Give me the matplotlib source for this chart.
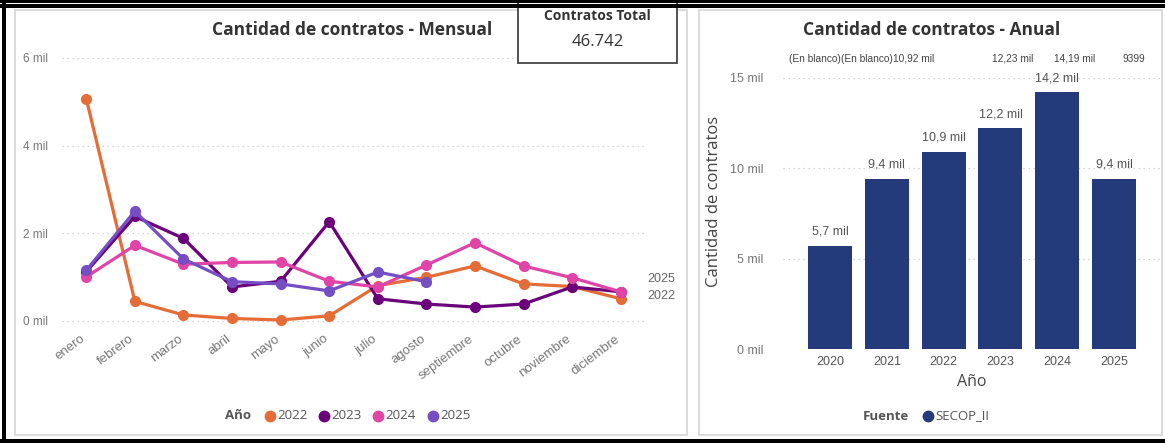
import matplotlib
matplotlib.use("Agg")
import matplotlib.pyplot as plt
import matplotlib.transforms as mtransforms
from matplotlib.patches import Rectangle
from matplotlib.lines import Line2D

# ---------------- data ----------------
months = ["enero", "febrero", "marzo", "abril", "mayo", "junio", "julio",
          "agosto", "septiembre", "octubre", "noviembre", "diciembre"]
y2022 = [5070, 440, 130, 50, 15, 110, 800, 990, 1250, 840, 780, 500]
y2023 = [1120, 2380, 1880, 770, 900, 2260, 500, 380, 310, 380, 770, 660]
y2024 = [1000, 1720, 1290, 1330, 1340, 900, 770, 1270, 1780, 1250, 980, 660]
y2025 = [1150, 2500, 1410, 890, 840, 680, 1110, 890]
series_years = ["2022", "2023", "2024", "2025"]
end_label_years = ["2025", "2022"]

left_yticks = [0, 2000, 4000, 6000]
left_yticklabels = ["0 mil", "2 mil", "4 mil", "6 mil"]

years = ["2020", "2021", "2022", "2023", "2024", "2025"]
annual = [5700, 9400, 10900, 12200, 14200, 9400]
annual_labels = ["5,7 mil", "9,4 mil", "10,9 mil", "12,2 mil", "14,2 mil", "9,4 mil"]
top_labels = ["(En blanco)", "(En blanco)", "10,92 mil", "12,23 mil", "14,19 mil", "9399"]
right_yticks = [0, 5000, 10000, 15000]
right_yticklabels = ["0 mil", "5 mil", "10 mil", "15 mil"]

card_title = "Contratos Total"
card_value = "46.742"

# ---------------- style ----------------
W, H = 1165, 443
colors = {"2022": "#E66C37", "2023": "#6B007B", "2024": "#E044A7", "2025": "#744EC2"}
bar_color = "#243B7B"
grey_txt = "#777777"
dark_txt = "#333333"
tick_font = "Liberation Sans"
title_font = "Open Sans"

fig = plt.figure(figsize=(W / 100, H / 100), dpi=100)
fig.patch.set_facecolor("white")


def fx(x):
    return x / W


def fy(y):
    return 1 - y / H


def rect(x0, y0, x1, y1, z, **kw):
    fig.add_artist(Rectangle((fx(x0), fy(y1)), fx(x1) - fx(x0), fy(y0) - fy(y1),
                             transform=fig.transFigure, zorder=z, **kw))


# panels (behind axes)
rect(15, 10, 687, 435, -5, facecolor="white", edgecolor="#D6D6D6", linewidth=1.2)
rect(699, 10, 1162, 435, -5, facecolor="white", edgecolor="#D6D6D6", linewidth=1.2)

# outer black frame
rect(0, 0, W, 2.5, 20, facecolor="black", edgecolor="none")
rect(0, 4.5, W, 7.5, 20, facecolor="black", edgecolor="none")
rect(2, 0, 6, H, 20, facecolor="black", edgecolor="none")
rect(0, 439, W, H, 20, facecolor="black", edgecolor="none")

# ---------------- left chart ----------------
axL = fig.add_axes([fx(62), fy(331.6), fx(645) - fx(62), fy(58) - fy(331.6)])
axL.set_zorder(1)
axL.set_facecolor("none")
axL.set_xlim(-0.5, 11.5)
axL.set_ylim(-250, 6000)
for s in axL.spines.values():
    s.set_visible(False)
axL.tick_params(length=0)
axL.set_yticks(left_yticks)
axL.set_yticklabels(left_yticklabels, fontsize=8.5, color=grey_txt, family=tick_font)
axL.tick_params(axis="y", pad=10)
axL.grid(axis="y", linestyle=(0, (1, 3)), color="#C8C8C8", linewidth=0.9)
axL.set_axisbelow(True)
axL.set_xticks(range(len(months)))
axL.set_xticklabels(months, rotation=37, ha="right", va="top", rotation_mode="anchor",
                    fontsize=9.5, color=grey_txt, family=tick_font)
axL.tick_params(axis="x", pad=1)
shift = mtransforms.ScaledTranslation(-6 / 100, 0, fig.dpi_scale_trans)
for lab in axL.get_xticklabels():
    lab.set_transform(lab.get_transform() + shift)

data_series = [y2022, y2023, y2024, y2025]
for yr, vals in zip(series_years, data_series):
    axL.plot(range(len(vals)), vals, color=colors[yr], linewidth=2.3, marker="o",
             markersize=7, solid_capstyle="round", zorder=3)

last_vals = dict(zip(series_years, data_series))
for yr in end_label_years:
    v = last_vals[yr][-1]
    axL.text(len(months) - 1 + 0.55, v + 60, yr, fontsize=9, color="#666666",
             family=tick_font, ha="left", va="center", clip_on=False)

fig.text(fx(352), fy(30), "Cantidad de contratos - Mensual", fontsize=12.5,
         fontweight="bold", color=dark_txt, family=title_font, ha="center", va="center")

# legend left
fig.text(fx(225), fy(415.5), "Año", fontsize=9.5, fontweight="bold", color="#555555",
         family=title_font, ha="left", va="center")
leg_x = [270, 324, 378, 433]
for yr, xd in zip(series_years, leg_x):
    fig.add_artist(Line2D([fx(xd)], [fy(415.5)], marker="o", markersize=7.5,
                          color=colors[yr], transform=fig.transFigure, linestyle="none"))
    fig.text(fx(xd + 7), fy(415.5), yr, fontsize=9.5, color="#555555",
             family=title_font, ha="left", va="center")

# ---------------- card ----------------
rect(518, -5, 677, 63, 10, facecolor="white", edgecolor="#444444", linewidth=1.3)
fig.text(fx(597.5), fy(16), card_title, fontsize=10, fontweight="bold", color=dark_txt,
         family=title_font, ha="center", va="center", zorder=11)
fig.text(fx(597.5), fy(42), card_value, fontsize=12, color=dark_txt,
         family=title_font, ha="center", va="center", zorder=11)

# ---------------- right chart ----------------
axR = fig.add_axes([fx(783), fy(349), fx(1160) - fx(783), fy(77.7) - fy(349)])
axR.set_zorder(1)
axR.set_facecolor("none")
axR.set_xlim(-0.83, 5.81)
axR.set_ylim(0, 15000)
for s in axR.spines.values():
    s.set_visible(False)
axR.tick_params(length=0)
axR.set_yticks(right_yticks)
axR.set_yticklabels(right_yticklabels, fontsize=9, color=grey_txt, family=tick_font)
axR.tick_params(axis="y", pad=14)
axR.grid(axis="y", linestyle=(0, (1, 3)), color="#C8C8C8", linewidth=0.9)
axR.set_axisbelow(True)
xs = list(range(len(years)))
axR.bar(xs, annual, width=0.775, color=bar_color, zorder=2)
axR.set_xticks(xs)
axR.set_xticklabels(years, fontsize=9, color="#555555", family=tick_font)
axR.tick_params(axis="x", pad=5)
for x, v, lab in zip(xs, annual, annual_labels):
    axR.text(x, v + 450, lab, fontsize=9, color="#555555", family=tick_font,
             ha="center", va="bottom", clip_on=False)

# top row of labels: first three chained side by side, remaining centred
top_kw = dict(fontsize=7.3, color="#444444", family=tick_font, clip_on=False)
prev = axR.text(-0.72, 1.07, top_labels[0], transform=axR.get_xaxis_transform(),
                ha="left", va="center", **top_kw)
for lab in top_labels[1:3]:
    prev = axR.annotate(lab, xy=(1, 0.5), xycoords=prev, ha="left", va="center",
                        **top_kw)
for x, lab in zip([3.22, 4.3, 5.35], top_labels[3:]):
    axR.text(x, 1.07, lab, transform=axR.get_xaxis_transform(),
             ha="center", va="center", **top_kw)

axR.set_xlabel("Año", fontsize=11.5, color="#444444", family=title_font, labelpad=4)
fig.text(fx(714), fy(201), "Cantidad de contratos", fontsize=12, color="#444444",
         family=title_font, rotation=90, ha="center", va="center")

fig.text(fx(932), fy(30), "Cantidad de contratos - Anual", fontsize=12.5,
         fontweight="bold", color=dark_txt, family=title_font, ha="center", va="center")

fig.text(fx(863), fy(416), "Fuente", fontsize=9.5, fontweight="bold", color="#555555",
         family=title_font, ha="left", va="center")
fig.add_artist(Line2D([fx(928)], [fy(416)], marker="o", markersize=7.5,
                      color=bar_color, transform=fig.transFigure, linestyle="none"))
fig.text(fx(935), fy(416), "SECOP_II", fontsize=9.5, color="#555555",
         family=title_font, ha="left", va="center")

fig.savefig("out.png", dpi=100, facecolor="white")
